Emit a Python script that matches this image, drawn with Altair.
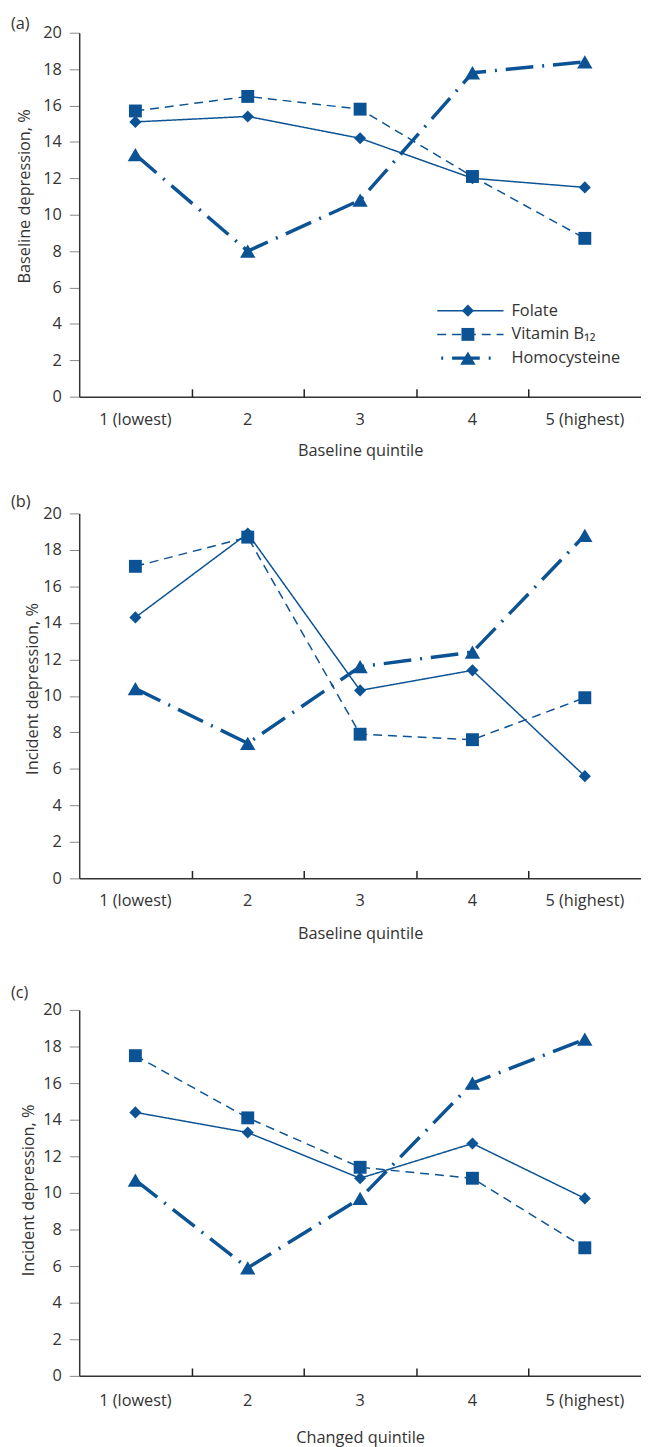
import altair as alt
import pandas as pd

quintiles = ["1 (lowest)", "2", "3", "4", "5 (highest)"]
series = ["Folate", "Vitamin B₁₂", "Homocysteine"]
boundaries = [1, 2, 3, 4]  # tick marks between quintile bands

a_folate = [15.1, 15.4, 14.2, 12.0, 11.5]
a_b12 = [15.7, 16.5, 15.8, 12.1, 8.7]
a_hcy = [13.3, 8.0, 10.8, 17.8, 18.4]

b_folate = [14.3, 18.9, 10.3, 11.4, 5.6]
b_b12 = [17.1, 18.7, 7.9, 7.6, 9.9]
b_hcy = [10.4, 7.4, 11.6, 12.4, 18.8]

c_folate = [14.4, 13.3, 10.8, 12.7, 9.7]
c_b12 = [17.5, 14.1, 11.4, 10.8, 7.0]
c_hcy = [10.7, 5.9, 9.7, 16.0, 18.4]

panel_labels = ["(a)", "(b)", "(c)"]
y_titles = ["Baseline depression, %", "Incident depression, %", "Incident depression, %"]
x_titles = ["Baseline quintile", "Baseline quintile", "Changed quintile"]
y_ticks = list(range(0, 21, 2))

BLUE = "#0b5394"
TXT = "#333333"
FONT = "Open Sans"
FS = 16.5
W = 568

# line style / marker per series (styles, not data)
STYLE = {
    "Folate": dict(dash=[1, 0], width=1.5, shape="diamond", size=150,
                   lx=362, lx2=429, loff=0),
    "Vitamin B₁₂": dict(dash=[9, 6], width=1.5, shape="square", size=170,
                        lx=362, lx2=429, loff=0),
    "Homocysteine": dict(dash=[28, 9, 2, 9], width=3.5, shape="triangle-up", size=240,
                         lx=366, lx2=420, loff=37),
}


def panel(vals, label, ytitle, xtitle, height, title_x, title_y, label_y,
          xlab_pad, xtitle_pad, legend=False):
    rows = []
    for s, arr in zip(series, vals):
        for q, v in zip(quintiles, arr):
            rows.append({"q": q, "series": s, "v": v})
    df = pd.DataFrame(rows)
    xscale = alt.Scale(type="band", domain=quintiles, paddingInner=0, paddingOuter=0)
    yscale = alt.Scale(domain=[0, 20], nice=False, zero=True)
    xaxis = alt.Axis(title=xtitle, ticks=False, labelAngle=0, labelPadding=xlab_pad,
                     titlePadding=xtitle_pad, labelFlush=False, labelOverlap=False,
                     domainWidth=1.5)
    x = alt.X("q:N", scale=xscale, bandPosition=0.5, axis=xaxis)
    y = alt.Y("v:Q", scale=yscale,
              axis=alt.Axis(title=ytitle, values=y_ticks, tickSize=10, labelPadding=8,
                            titleX=title_x, titleY=title_y, titleBaseline="middle",
                            domainWidth=1.5, tickWidth=1))

    layers = []
    for s in series:
        st = STYLE[s]
        base = alt.Chart(df).transform_filter(alt.datum.series == s)
        layers.append(base.mark_line(color=BLUE, strokeDash=st["dash"], strokeWidth=st["width"])
                      .encode(x=x, y=y))
    for s in series:
        st = STYLE[s]
        base = alt.Chart(df).transform_filter(alt.datum.series == s)
        layers.append(base.mark_point(filled=True, color=BLUE, opacity=1, shape=st["shape"],
                                      size=st["size"]).encode(x=x, y=y))
    lab = alt.Chart(pd.DataFrame({"t": [label]})).mark_text(
        align="left", baseline="middle", font=FONT, fontSize=FS, color=TXT).encode(
        text="t:N", x=alt.value(-69), y=alt.value(label_y))
    layers.append(lab)
    main = alt.layer(*layers)

    parts = [main]
    if legend:
        leg_df = pd.DataFrame({"series": series})
        ly = alt.Y("series:N", scale=alt.Scale(type="point", domain=series, range=[281, 329], padding=0),
                   axis=None)
        leg_layers = []
        for s in series:
            st = STYLE[s]
            lb = alt.Chart(leg_df).transform_filter(alt.datum.series == s)
            leg_layers.append(lb.mark_rule(color=BLUE, strokeDash=st["dash"], strokeWidth=st["width"],
                                           strokeDashOffset=st["loff"])
                              .encode(x=alt.value(st["lx"]), x2=alt.value(st["lx2"]), y=ly))
            leg_layers.append(lb.mark_point(filled=True, color=BLUE, opacity=1, shape=st["shape"],
                                            size=st["size"]).encode(x=alt.value(393), y=ly))
        leg_layers.append(alt.Chart(leg_df).mark_text(
            align="left", baseline="middle", font=FONT, fontSize=FS, color=TXT).encode(
            x=alt.value(437), y=ly, text="series:N"))
        parts.append(alt.layer(*leg_layers))

    # inward tick marks at the band boundaries: a tick-only axis laid on the bottom edge
    tick_axis = alt.Axis(orient="top", offset=-height, values=boundaries, ticks=True,
                         tickSize=8, tickWidth=1.5, tickColor="#222222", labels=False,
                         domain=False, title=None, grid=False)
    ticks = alt.Chart(pd.DataFrame({"b": boundaries})).mark_point(opacity=0, size=1).encode(
        x=alt.X("b:Q", scale=alt.Scale(domain=[0, len(quintiles)], nice=False, zero=False),
                axis=tick_axis),
        y=alt.value(height))
    parts.append(ticks)

    outer = alt.layer(*parts).resolve_scale(x="independent", y="independent")
    return outer.properties(width=W, height=height)


pa = panel([a_folate, a_b12, a_hcy], panel_labels[0], y_titles[0], x_titles[0], 368,
           -55, 165, -9, 15, 15, legend=True)
pb = panel([b_folate, b_b12, b_hcy], panel_labels[1], y_titles[1], x_titles[1], 369,
           -47, 177, -11, 14, 17)
pc = panel([c_folate, c_b12, c_hcy], panel_labels[2], y_titles[2], x_titles[2], 370,
           -51, 182, -17, 17, 21)

chart = alt.vconcat(alt.vconcat(pa, pb, spacing=36), pc, spacing=44).properties(
    padding={"left": 3, "top": 0, "right": 0, "bottom": 0}
).configure_view(stroke=None).configure_axis(
    labelFont=FONT, titleFont=FONT, labelFontSize=FS, titleFontSize=FS,
    labelColor=TXT, titleColor=TXT, titleFontWeight="normal",
    domainColor=TXT, grid=False
)

chart.save("out.html", embed_options={"renderer": "svg", "actions": False})
